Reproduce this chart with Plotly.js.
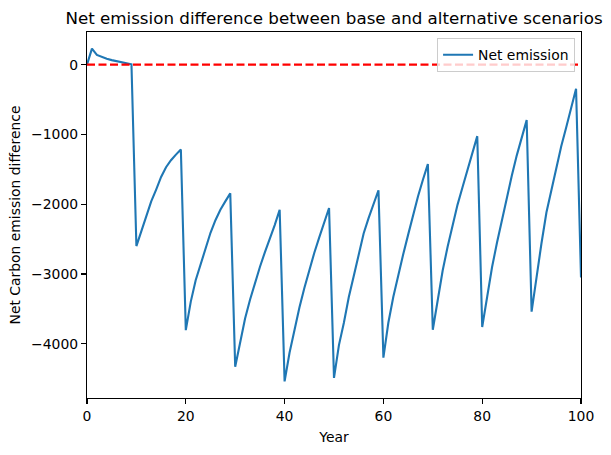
<!DOCTYPE html>
<html>
<head>
<meta charset="utf-8">
<script src="https://cdn.plot.ly/plotly-3.0.1.min.js"></script>
<style>
  html, body { margin: 0; padding: 0; background: #fff; }
  #chart { width: 611px; height: 455px; }
</style>
</head>
<body>
<div id="chart"></div>
<script>
// Simulation years
const years = Array.from({length: 101}, (_, i) => i);

// Net carbon emission difference (base minus alternative), one value per year
const netEmission = [
  0, 230, 140, 110, 85, 65, 48, 32, 18, 5,
  -2600, -2380, -2150, -1960, -1790, -1610, -1470, -1370, -1290, -1215,
  -3805, -3400, -3090, -2860, -2620, -2410, -2230, -2080, -1960, -1845,
  -4330, -3960, -3640, -3370, -3130, -2900, -2690, -2500, -2300, -2080,
  -4540, -4130, -3780, -3480, -3200, -2940, -2700, -2480, -2260, -2055,
  -4490, -4020, -3700, -3330, -3030, -2720, -2420, -2200, -1990, -1800,
  -4200, -3700, -3330, -3010, -2720, -2440, -2150, -1890, -1650, -1425,
  -3800, -3390, -2950, -2610, -2290, -2010, -1760, -1520, -1280, -1025,
  -3760, -3300, -2900, -2550, -2220, -1930, -1590, -1300, -1050, -795,
  -3540, -3030, -2560, -2120, -1800, -1470, -1170, -900, -630, -345,
  -3050
];

// Zero-difference reference line
const refX = [0, 100];
const refY = [0, 0];

const fontFamily = 'DejaVu Sans, sans-serif';

const traces = [
  {
    x: years, y: netEmission,
    type: 'scatter', mode: 'lines',
    name: 'Net emission',
    line: {color: '#1f77b4', width: 2.1}
  },
  {
    x: refX, y: refY,
    type: 'scatter', mode: 'lines',
    showlegend: false,
    line: {color: 'red', width: 2.1, dash: '8px,3.5px'}
  }
];

const axisCommon = {
  showline: true, mirror: true, linecolor: '#000', linewidth: 1.1,
  ticks: 'outside', ticklen: 5, tickwidth: 1.1, tickcolor: '#000',
  showgrid: false, zeroline: false,
  tickfont: {family: fontFamily, size: 13.9, color: '#000'}
};

const layout = {
  width: 611, height: 455,
  margin: {l: 87, r: 30, t: 32, b: 57},
  paper_bgcolor: '#fff', plot_bgcolor: '#fff',
  font: {family: fontFamily, color: '#000'},
  title: {
    text: 'Net emission difference between base and alternative scenarios',
    font: {family: fontFamily, size: 16.7, color: '#000'},
    x: 0.5467, xanchor: 'center', y: 0.96, yanchor: 'middle'
  },
  xaxis: Object.assign({}, axisCommon, {
    range: [0, 100],
    tickvals: [0, 20, 40, 60, 80, 100],
    title: {text: 'Year', font: {family: fontFamily, size: 13.9, color: '#000'}, standoff: 9}
  }),
  yaxis: Object.assign({}, axisCommon, {
    range: [-4778, 468],
    tickvals: [0, -1000, -2000, -3000, -4000],
    title: {text: 'Net Carbon emission difference', font: {family: fontFamily, size: 13.9, color: '#000'}, standoff: 7}
  }),
  legend: {
    x: 0.988, y: 0.983, xanchor: 'right', yanchor: 'top',
    bgcolor: 'rgba(255,255,255,0.8)', bordercolor: '#cccccc', borderwidth: 1,
    font: {family: fontFamily, size: 13.9, color: '#000'},
    itemwidth: 30
  },
  showlegend: true
};

Plotly.newPlot('chart', traces, layout, {displayModeBar: false, staticPlot: true});
</script>
</body>
</html>
